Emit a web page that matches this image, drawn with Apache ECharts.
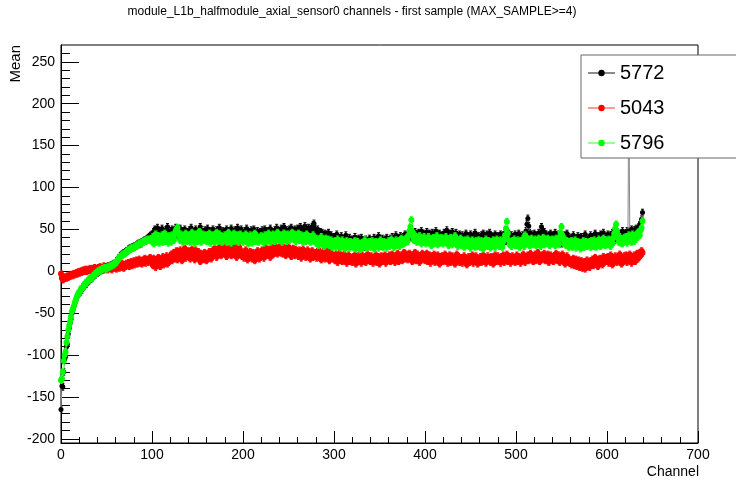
<!DOCTYPE html>
<html>
<head>
<meta charset="utf-8">
<script src="https://cdn.jsdelivr.net/npm/echarts@6/dist/echarts.min.js"></script>
<style>
html,body{margin:0;padding:0;background:#fff;}
#chart{width:736px;height:484px;}
</style>
</head>
<body>
<div id="chart"></div>
<script>
const titleText = 'module_L1b_halfmodule_axial_sensor0 channels - first sample (MAX_SAMPLE>=4)';
const seriesNames = ['5772', '5043', '5796'];
const yMajorTicks = [-200, -150, -100, -50, 0, 50, 100, 150, 200, 250];
// estimated half-length of the error bars (same units as Mean), per run
const errorHalf = [4, 4, 4];

// Mean per channel (channel = index), run 5772
const run5772 = [
-165,-137,-138,-120,-105,-102,-90,-87,-75,-68,-62,-57,-50,-47,-42,-39,-36,-33,-30,-27,
-26,-25,-22,-22,-19,-18,-17,-15,-15,-13,-12,-11,-9,-9,-8,-6,-6,-4,-4,-2,
-2,-1,0,1,1,2,3,2,4,4,5,4,6,5,6,7,7,8,9,9,
10,12,13,15,16,18,19,20,21,22,22,23,24,24,26,27,27,28,28,29,
29,30,30,31,32,33,32,34,33,35,35,36,37,36,38,39,40,41,42,43,
44,38,47,50,41,46,52,43,39,48,45,51,42,47,40,49,44,53,46,41,
48,43,50,45,39,47,52,44,49,42,46,51,40,45,48,43,50,38,47,44,
41,49,45,52,43,38,47,44,50,42,46,39,48,53,44,41,47,43,49,40,
46,51,42,45,48,39,44,50,43,47,41,49,45,38,52,44,46,40,48,43,
47,42,50,39,45,48,43,51,40,46,44,49,41,47,52,43,38,46,50,42,
45,40,48,43,51,44,39,47,42,49,45,41,50,43,46,38,48,44,42,47,
43,49,41,46,50,44,39,48,45,42,51,46,40,47,44,49,43,52,45,41,
48,44,51,42,46,53,45,40,49,47,43,50,46,52,44,48,41,50,45,47,
51,44,48,53,46,42,50,47,54,45,49,43,52,48,50,46,53,55,57,51,
48,44,50,45,42,47,41,46,43,39,45,40,44,38,46,42,37,43,40,36,
41,35,39,44,37,33,40,36,42,34,38,31,39,43,35,37,32,40,36,34,
38,33,36,41,30,37,34,39,32,36,40,33,37,29,35,38,31,36,34,39,
33,37,30,36,40,34,31,38,35,42,32,37,34,39,36,31,38,33,40,35,
37,32,39,35,41,34,38,36,43,33,40,37,35,42,38,34,41,37,44,39,
42,38,46,41,44,49,40,45,43,47,39,44,41,46,38,43,48,40,45,42,
44,39,47,41,36,45,42,38,46,40,43,37,48,41,44,39,45,42,36,43,
40,46,38,44,49,42,37,45,41,39,47,35,43,40,46,38,42,36,44,39,
37,43,40,34,41,45,38,36,42,39,44,33,40,37,43,46,38,41,35,42,
39,35,43,38,45,36,41,37,44,34,40,46,38,42,35,41,37,44,39,36,
42,38,35,44,40,37,43,39,46,36,41,38,45,34,40,43,37,41,39,44,
36,42,39,45,38,41,35,43,40,37,44,48,56,63,54,46,41,44,38,42,
45,39,43,37,41,46,40,44,53,48,42,47,39,44,41,36,43,38,45,40,
37,43,39,46,35,41,38,44,36,42,33,40,37,43,35,39,45,36,41,38,
34,40,37,43,35,39,32,38,42,36,40,34,41,37,33,39,44,36,38,35,
40,36,43,38,34,41,37,45,39,35,42,38,36,44,40,37,46,39,35,41,
38,44,40,36,43,39,46,41,37,44,40,47,38,42,45,39,43,48,41,37,
45,41,48,43,220,47,42,50,44,46,49,43,51,46,48,53,55,58,62,70
];

// run 5043
const run5043 = [
-3,-8,-10,-9,-8,-7,-8,-6,-7,-5,-6,-5,-4,-5,-3,-4,-3,-2,-3,-1,
-2,-1,0,-1,1,0,1,2,0,1,2,1,3,2,1,3,2,4,2,3,
2,4,3,5,3,2,4,6,3,5,4,2,5,3,6,4,2,5,7,4,
6,3,5,8,4,7,5,9,6,4,8,6,9,7,10,6,8,11,7,9,
12,8,10,13,9,11,14,10,12,9,13,11,15,10,12,14,11,13,16,12,
12,7,15,10,5,13,9,16,11,6,14,10,17,8,13,11,18,9,15,12,
16,20,13,18,22,15,19,24,14,21,17,25,19,13,23,20,27,16,22,18,
24,19,15,22,26,18,21,14,25,20,17,23,19,12,21,16,19,14,22,17,
13,20,16,23,18,15,21,25,19,27,22,17,24,20,28,23,19,26,21,25,
29,22,18,25,21,27,23,19,26,20,24,30,22,17,25,21,28,20,23,18,
22,16,20,25,18,14,21,17,23,19,15,22,18,13,20,16,24,19,15,21,
18,25,20,16,23,27,19,22,26,21,17,24,28,20,25,22,29,24,21,27,
25,30,22,26,21,28,24,19,27,23,29,21,25,18,24,27,22,19,26,21,
23,18,25,20,16,22,26,19,23,17,21,25,18,22,15,20,24,17,21,19,
22,16,20,25,17,21,14,19,23,18,15,20,24,16,19,13,22,17,20,15,
18,13,20,16,11,17,21,14,18,12,16,20,13,17,10,15,19,12,16,14,
11,17,14,19,9,15,12,18,13,16,10,19,14,12,17,11,15,20,13,16,
12,18,14,10,16,13,19,11,15,17,9,14,18,12,16,13,19,10,15,17,
14,19,12,16,20,13,17,11,18,15,21,12,16,14,19,13,17,22,15,18,
20,14,17,21,15,19,12,18,16,22,13,17,20,15,11,18,14,21,16,19,
13,17,21,12,16,19,10,15,18,14,20,11,16,13,19,15,9,17,14,18,
12,16,20,13,17,10,15,19,11,14,18,12,16,9,15,20,13,17,11,14,
16,10,14,18,12,15,8,13,17,11,16,14,19,10,15,12,18,13,9,15,
13,17,11,16,19,12,15,10,14,18,13,16,11,17,14,9,15,19,12,16,
18,12,15,10,17,13,19,11,16,14,20,12,15,17,10,14,18,13,16,11,
14,19,12,17,15,10,16,13,20,14,11,17,15,19,13,16,21,14,18,12,
16,20,13,17,22,15,12,18,14,19,16,21,13,17,15,20,11,16,19,14,
17,12,18,15,21,13,16,19,11,17,14,20,12,16,9,14,18,11,15,10,
13,8,12,15,7,11,14,6,10,13,5,9,12,4,8,11,3,9,13,6,
10,5,12,8,14,7,11,16,9,13,6,12,15,10,14,8,17,11,13,16,
12,17,10,15,19,13,8,16,12,18,14,11,17,13,20,15,9,16,12,18,
14,19,11,16,13,20,15,10,17,14,19,12,16,21,15,18,22,19,24,22
];

// run 5796
const run5796 = [
-130,-128,-120,-107,-100,-96,-85,-78,-70,-65,-60,-54,-48,-45,-42,-38,-35,-32,-29,-27,
-26,-24,-21,-21,-19,-17,-16,-14,-14,-12,-11,-10,-9,-8,-8,-6,-5,-4,-3,-2,
-1,0,0,1,2,2,3,3,4,4,3,4,5,5,6,6,7,8,8,9,
10,11,13,14,16,17,18,19,20,21,21,22,23,24,25,26,26,27,28,28,
28,29,30,30,31,32,33,33,34,34,35,35,36,36,37,37,38,37,38,38,
36,41,33,39,44,35,38,42,34,40,37,43,35,39,45,36,41,38,34,42,
39,35,43,40,37,44,48,50,52,46,41,37,44,39,35,42,38,45,36,41,
38,43,35,40,46,37,41,34,44,39,36,42,47,38,35,41,44,37,40,43,
36,42,39,45,34,40,37,43,38,35,41,46,39,36,44,38,42,35,40,37,
43,38,35,41,46,37,40,34,42,39,45,36,41,38,43,35,39,44,37,40,
35,41,38,44,36,40,33,39,43,37,34,41,38,45,36,42,39,35,40,37,
42,37,40,34,43,39,36,41,45,38,35,40,37,44,39,36,42,38,46,40,
37,43,39,35,41,45,38,42,36,44,40,37,43,39,46,41,38,44,36,42,
39,45,37,41,43,38,35,42,40,36,44,39,37,41,35,40,38,43,36,39,
34,39,36,31,38,35,41,33,37,30,36,39,32,35,38,31,34,37,29,35,
32,36,29,34,38,31,35,28,33,37,30,34,27,32,36,30,33,28,35,31,
34,29,32,36,27,31,35,30,33,26,31,34,29,32,37,30,28,33,31,35,
29,33,36,30,27,32,35,31,34,28,33,37,30,32,29,35,31,34,28,33,
36,30,34,38,32,35,29,33,37,31,34,36,30,35,39,32,36,33,38,35,
40,36,43,48,53,61,47,41,37,43,38,35,40,36,42,37,33,39,35,41,
37,33,39,35,41,34,38,31,36,40,33,38,35,42,32,37,39,34,40,36,
33,39,36,41,34,38,31,37,40,35,32,38,35,42,33,36,30,37,34,39,
31,36,33,29,37,34,31,38,32,35,28,34,37,31,35,29,36,33,30,37,
34,29,36,32,27,35,31,38,33,30,36,32,28,35,31,37,33,29,34,38,
32,35,30,37,33,29,36,38,43,51,59,45,37,32,35,30,36,33,38,31,
35,31,37,33,29,36,32,38,34,30,43,40,36,33,38,31,35,39,32,36,
34,38,31,36,33,39,35,30,37,34,40,32,38,35,33,39,36,31,37,34,
38,33,36,31,39,34,37,32,41,46,53,43,37,33,38,31,36,34,29,35,
32,36,29,34,31,37,28,33,35,30,34,27,33,30,36,29,32,35,30,34,
31,35,29,36,32,30,37,33,29,35,31,38,34,30,36,32,39,34,31,37,
35,32,38,34,30,37,33,40,45,51,56,47,39,35,41,34,38,33,37,40,
36,41,34,39,43,37,40,35,44,38,36,42,39,45,41,47,43,49,52,60
];

const yMinorTicks = [];
for (let v = -200; v <= 260; v += 10) yMinorTicks.push(v);

function pairs(arr) { return arr.map((v, i) => [i, v]); }

const FONT = '"Liberation Sans", Arial, Helvetica, sans-serif';
const chart = echarts.init(document.getElementById('chart'), null, {renderer: 'canvas'});

const markerColors = ['#000000', '#ff0000', '#00ff00'];
const lineColors = ['#8a8a8a', '#ff9a9a', '#9aff9a'];
const markerSizes = [5, 6, 6];
const datasets = [run5772, run5043, run5796];

function errorSeries(k) {
  const e = errorHalf[k];
  return {
    name: seriesNames[k] + ' err',
    type: 'custom',
    clip: true,
    z: 2 + 2 * k,
    silent: true,
    data: datasets[k].map((v, i) => [i, v - e, v + e]),
    renderItem: function (params, api) {
      const lo = api.coord([api.value(0), api.value(1)]);
      const hi = api.coord([api.value(0), api.value(2)]);
      const c = markerColors[k];
      return {
        type: 'group',
        children: [
          {type: 'line', shape: {x1: lo[0], y1: lo[1], x2: hi[0], y2: hi[1]}, style: {stroke: c, lineWidth: 1}},
          {type: 'line', shape: {x1: lo[0] - 1.5, y1: lo[1], x2: lo[0] + 1.5, y2: lo[1]}, style: {stroke: c, lineWidth: 1}},
          {type: 'line', shape: {x1: hi[0] - 1.5, y1: hi[1], x2: hi[0] + 1.5, y2: hi[1]}, style: {stroke: c, lineWidth: 1}}
        ]
      };
    }
  };
}

const series = [];
datasets.forEach((d, k) => {
  series.push(errorSeries(k));
  series.push({
    name: seriesNames[k],
    type: 'line',
    data: pairs(d),
    symbol: 'circle',
    symbolSize: markerSizes[k],
    showSymbol: true,
    showAllSymbol: true,
    lineStyle: {color: lineColors[k], width: 1},
    itemStyle: {color: markerColors[k]},
    z: 3 + 2 * k
  });
});

const option = {
  animation: false,
  backgroundColor: '#ffffff',
  grid: {left: 61, right: 38, top: 45, bottom: 41, show: true, borderColor: '#000', borderWidth: 1, backgroundColor: 'transparent'},
  xAxis: {
    type: 'value', min: 0, max: 700, interval: 100,
    axisLine: {show: true, onZero: false, lineStyle: {color: '#000', width: 1}},
    axisTick: {show: true, inside: true, length: 12, lineStyle: {color: '#000'}},
    minorTick: {show: true, splitNumber: 5, length: 6, lineStyle: {color: '#000'}},
    splitLine: {show: false},
    axisLabel: {color: '#000', fontSize: 14, fontFamily: FONT, margin: 5}
  },
  yAxis: [{
    type: 'value', min: -205, max: 270, position: 'left',
    axisLine: {show: true, onZero: false, lineStyle: {color: '#000', width: 1}},
    axisTick: {show: true, inside: true, length: 18, customValues: yMajorTicks, lineStyle: {color: '#000'}},
    splitLine: {show: false},
    axisLabel: {color: '#000', fontSize: 14, fontFamily: FONT, margin: 6, customValues: yMajorTicks}
  }, {
    type: 'value', min: -205, max: 270, position: 'left', offset: 0,
    axisLine: {show: false},
    axisTick: {show: true, inside: true, length: 9, customValues: yMinorTicks, lineStyle: {color: '#000'}},
    splitLine: {show: false},
    axisLabel: {show: false}
  }],
  legend: {
    left: 581, top: 55, orient: 'vertical',
    padding: [8, 80, 5, 6],
    itemGap: 15, itemWidth: 27, itemHeight: 8,
    backgroundColor: '#ffffff', borderColor: '#666', borderWidth: 1,
    textStyle: {fontSize: 20, fontFamily: FONT, color: '#000'},
    data: seriesNames,
    z: 20
  },
  graphic: [
    {type: 'text', x: 352, y: 12, style: {text: titleText, textAlign: 'center', textVerticalAlign: 'middle', font: '12px ' + FONT, fill: '#000'}},
    {type: 'text', rotation: Math.PI / 2, x: 16, y: 45, style: {text: 'Mean', textAlign: 'right', textVerticalAlign: 'middle', font: '15px ' + FONT, fill: '#000'}},
    {type: 'text', x: 699, y: 472, style: {text: 'Channel', textAlign: 'right', textVerticalAlign: 'middle', font: '14px ' + FONT, fill: '#000'}}
  ],
  series: series
};
chart.setOption(option);
</script>
</body>
</html>
